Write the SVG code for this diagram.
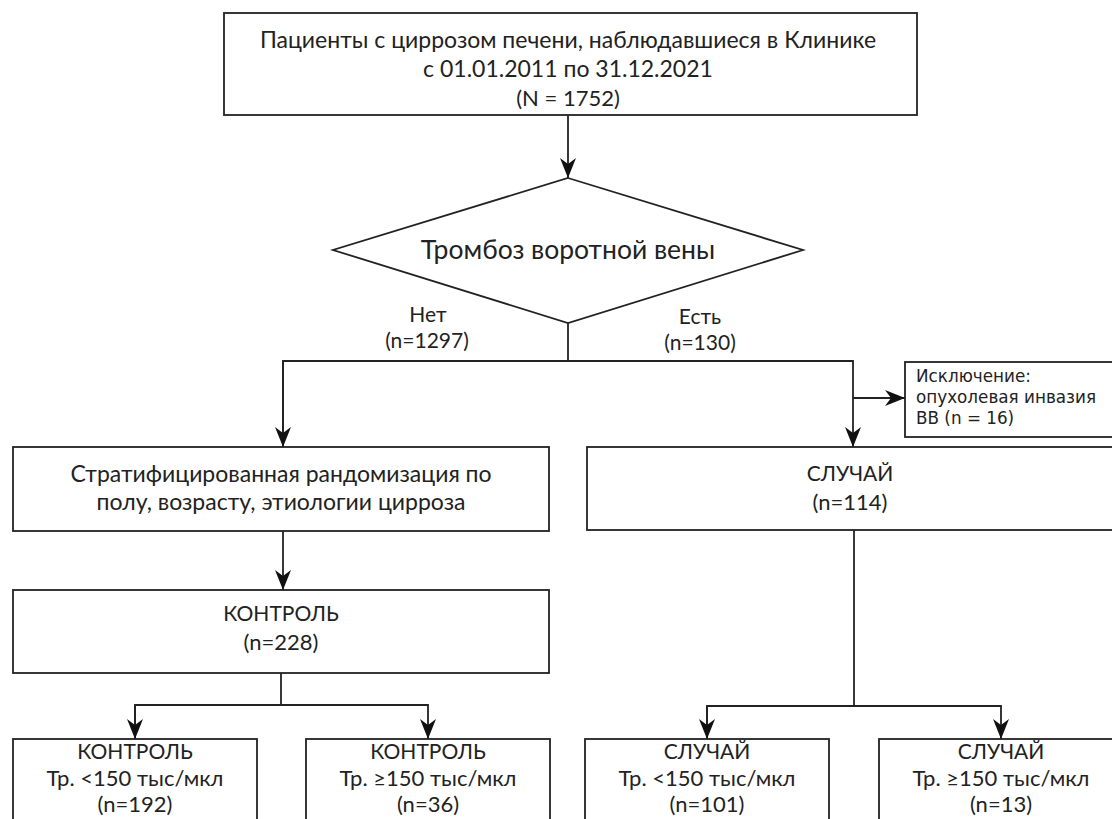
<svg xmlns="http://www.w3.org/2000/svg" width="1112" height="819" viewBox="0 0 1112 819">
<style>
.box{fill:#fff;stroke:#222;stroke-width:1.8}
.t{font-family:Lato,"Open Sans",sans-serif;font-size:22px;fill:#222;text-anchor:middle}
.lc{font-size:23px}
.uc{font-size:21px}
.lb{font-size:21px}
.big{font-size:26.5px}
.ex{font-family:"DejaVu Sans",sans-serif;font-size:16.8px;fill:#222}
.ln{fill:none;stroke:#222;stroke-width:1.8}
</style>
<defs>
<marker id="ah" markerUnits="userSpaceOnUse" markerWidth="24" markerHeight="20" refX="20" refY="8" orient="auto">
<path d="M0,0 L20,8 L0,16 L6,8 z" fill="#111"/>
</marker>
</defs>
<rect width="1112" height="819" fill="#fff"/>
<g id="connectors">
<line class="ln" x1="568" y1="115" x2="568" y2="178" marker-end="url(#ah)"/>
<polyline class="ln" points="568,323 568,361"/>
<polyline class="ln" points="283,447 283,361 853,361 853,447" marker-end="url(#ah)"/>
<line class="ln" x1="283" y1="361" x2="283" y2="447" marker-end="url(#ah)"/>
<line class="ln" x1="853" y1="398" x2="905" y2="398" marker-end="url(#ah)"/>
<line class="ln" x1="283" y1="531" x2="283" y2="590" marker-end="url(#ah)"/>
<polyline class="ln" points="281,673 281,705"/>
<polyline class="ln" points="135,739 135,705 428,705 428,739" marker-end="url(#ah)"/>
<line class="ln" x1="135" y1="705" x2="135" y2="739" marker-end="url(#ah)"/>
<polyline class="ln" points="854,530 854,706"/>
<polyline class="ln" points="707,739 707,706 1001,706 1001,739" marker-end="url(#ah)"/>
<line class="ln" x1="707" y1="706" x2="707" y2="739" marker-end="url(#ah)"/>
</g>
<g id="n-patients">
<rect class="box" x="224" y="13" width="693" height="102"/>
<text class="t lc" x="568" y="48">Пациенты с циррозом печени, наблюдавшиеся в Клинике</text>
<text class="t lc" x="568" y="77">с 01.01.2011 по 31.12.2021</text>
<text class="t" x="568" y="106">(N = 1752)</text>
</g>
<g id="n-decision">
<polygon class="box" points="568,178 803,250 568,323 333,250"/>
<text class="t big" x="568" y="259">Тромбоз воротной вены</text>
</g>
<g id="l-no">
<text class="t lb" x="428" y="322">Нет</text>
<text class="t lb" x="427" y="348">(n=1297)</text>
</g>
<g id="l-yes">
<text class="t lb" x="700" y="324">Есть</text>
<text class="t lb" x="700" y="350">(n=130)</text>
</g>
<g id="n-exclusion">
<rect class="box" x="905" y="362" width="215" height="75"/>
<text class="ex" x="916" y="382">Исключение:</text>
<text class="ex" x="916" y="403">опухолевая инвазия</text>
<text class="ex" x="916" y="424">ВВ  (n = 16)</text>
</g>
<g id="n-strat">
<rect class="box" x="13" y="447" width="536" height="84"/>
<text class="t lc" x="281" y="482">Стратифицированная рандомизация по</text>
<text class="t lc" x="281" y="510">полу, возрасту, этиологии цирроза</text>
</g>
<g id="n-case">
<rect class="box" x="587" y="447" width="535" height="83"/>
<text class="t uc" x="850" y="481">СЛУЧАЙ</text>
<text class="t" x="850" y="510">(n=114)</text>
</g>
<g id="n-control">
<rect class="box" x="13" y="590" width="536" height="83"/>
<text class="t uc" x="281" y="621">КОНТРОЛЬ</text>
<text class="t" x="281" y="650">(n=228)</text>
</g>
<g id="n-control-low">
<rect class="box" x="13" y="739" width="244" height="100"/>
<text class="t uc" x="135" y="759">КОНТРОЛЬ</text>
<text class="t" x="135" y="786">Тр. &lt;150 тыс/мкл</text>
<text class="t" x="135" y="812">(n=192)</text>
</g>
<g id="n-control-high">
<rect class="box" x="306" y="739" width="244" height="100"/>
<text class="t uc" x="428" y="759">КОНТРОЛЬ</text>
<text class="t" x="428" y="786">Тр. ≥150 тыс/мкл</text>
<text class="t" x="428" y="812">(n=36)</text>
</g>
<g id="n-case-low">
<rect class="box" x="585" y="739" width="244" height="100"/>
<text class="t uc" x="707" y="759">СЛУЧАЙ</text>
<text class="t" x="707" y="786">Тр. &lt;150 тыс/мкл</text>
<text class="t" x="707" y="812">(n=101)</text>
</g>
<g id="n-case-high">
<rect class="box" x="879" y="739" width="250" height="100"/>
<text class="t uc" x="1001" y="759">СЛУЧАЙ</text>
<text class="t" x="1001" y="786">Тр. ≥150 тыс/мкл</text>
<text class="t" x="1001" y="812">(n=13)</text>
</g>
</svg>
